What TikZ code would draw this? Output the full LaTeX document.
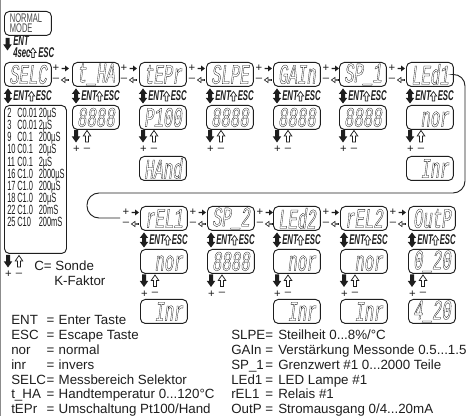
\documentclass[tikz,border=0pt]{standalone}
\usepackage{fontspec}
\setmainfont{Liberation Sans}
\newfontfamily\narrowfont[FakeStretch=0.56]{Liberation Sans}
\newfontfamily\normfont[FakeStretch=0.6]{Liberation Sans}
\newfontfamily\keyfont[FakeStretch=0.55,BoldFont={Liberation Sans Bold},ItalicFont={Liberation Sans Italic}]{Liberation Sans}
\newfontfamily\segfont[FakeStretch=0.56,FakeSlant=0.12]{Liberation Mono}
\definecolor{ink}{HTML}{1E1E1E}
\newcommand{\segtxt}[1]{{\segfont\fontsize{21}{21}\selectfont\special{pdf:code 1 Tr 0.22 w}#1\special{pdf:code 0 Tr}}}
\newcommand{\keytxt}[1]{{\keyfont\bfseries\itshape\fontsize{10.6}{10.6}\selectfont #1}}
\newcommand{\listtxt}[1]{{\narrowfont\fontsize{10}{10}\selectfont #1}}
\tikzset{
  dbox/.style={draw=ink,line width=0.7pt,rounded corners=3.6pt,minimum width=35.2pt,minimum height=18pt,inner sep=0pt,text=ink},
  lg/.style={anchor=base west,inner sep=0pt,text=ink,font=\fontsize{10}{11}\selectfont},
  kt/.style={anchor=base west,inner sep=0pt,text=ink},
  sg/.style={inner sep=0pt,text=ink,font=\fontsize{8.5}{8.5}\selectfont},
  lst/.style={anchor=base west,inner sep=0pt,text=ink},
  conn/.style={draw=ink,line width=0.7pt},
  pics/soliddown/.style={code={\fill[ink] (-2,0)--(-2,6.5)--(-4.2,6.5)--(0,12.5)--(4.2,6.5)--(2,6.5)--(2,0)--cycle;}},
  pics/hollowup/.style={code={\draw[ink,line width=0.55pt,fill=white] (-1.5,0)--(-1.5,-6)--(-3.8,-6)--(0,-11.5)--(3.8,-6)--(1.5,-6)--(1.5,0)--cycle;}},
  pics/hollowsmall/.style={code={\draw[ink,line width=0.5pt,fill=white] (-1.2,0)--(-1.2,-5)--(-3.2,-5)--(0,-9.5)--(3.2,-5)--(1.2,-5)--(1.2,0)--cycle;}},
  pics/updown/.style={code={\fill[ink] (0,-7.5)--(4.2,-2)--(2,-2)--(2,2)--(4.2,2)--(0,7.5)--(-4.2,2)--(-2,2)--(-2,-2)--(-4.2,-2)--cycle;}},
  pics/rightsolid/.style={code={\fill[ink] (-3.5,-0.7)--(0,-0.7)--(0,-3)--(4,0)--(0,3)--(0,0.7)--(-3.5,0.7)--cycle;}},
  pics/lefthollow/.style={code={\draw[ink,line width=0.45pt,fill=white] (3.5,-0.6)--(0,-0.6)--(0,-2.6)--(-3.6,0)--(0,2.6)--(0,0.6)--(3.5,0.6)--cycle;}},
}
\newcommand{\between}[2]{%
  \node[sg] at (#1+6,#2+6.5) {+};
  \node[sg] at (#1+6,#2+18) {–};
  \pic at (#1+15,#2+6.5) {rightsolid};
  \pic at (#1+15,#2+18) {lefthollow};
}
\newcommand{\entesc}[2]{%
  \pic at (#1+4,#2-5) {updown};
  \node[kt] at (#1+9,#2) {\keytxt{ENT}};
  \node[kt] at (#1+31.5,#2) {\keytxt{ESC}};
  \pic at (#1+27.5,#2) {hollowsmall};
}
\newcommand{\plusminus}[2]{%
  \pic at (#1+4,#2) {soliddown};
  \pic at (#1+15,#2+12) {hollowup};
  \node[sg] at (#1+4.5,#2+19.5) {+};
  \node[sg] at (#1+15,#2+19.5) {–};
}
\newcommand{\lgl}[3]{\node[lg] at (11,#1) {\makebox[26.6pt][l]{#2}\makebox[9pt][l]{=}#3};}
\newcommand{\lgr}[3]{\node[lg] at (231,#1) {\makebox[25.5pt][l]{#2}\makebox[9.75pt][l]{=}#3};}
\begin{document}
\begin{tikzpicture}[x=0.75pt,y=-0.75pt]
\useasboundingbox (0,0) rectangle (468,416);
\fill[white] (0,0) rectangle (468,416);
\fill[black!45] (0,0) rectangle (1,416);
% first row
\node[dbox,anchor=north west] (normal) at (4,11) {};
\node[anchor=center,inner sep=0pt,text=ink!80,align=left,font=\normfont\fontsize{9.4}{7.3}\selectfont] (normaltxt) at (26,23) {NORMAL\\MODE};
\pic at (7.5,38) {soliddown};
\node[kt] (enttop) at (13,46) {\keytxt{ENT}};
\node[kt] (sec) at (13,57.5) {\keytxt{4sec}};
\node[kt] (esctop) at (38,57.5) {\keytxt{ESC}};
\pic at (33,57.5) {hollowsmall};
\node[dbox,anchor=north west] (selc) at (4,62) {\segtxt{SELC}};
\node[dbox,anchor=north west] (tha) at (72,62) {\segtxt{t\_HA}};
\node[dbox,anchor=north west] (tepr) at (139,62) {\segtxt{tEPr}};
\node[dbox,anchor=north west] (slpe) at (206,62) {\segtxt{SLPE}};
\node[dbox,anchor=north west] (gain) at (273,62) {\segtxt{GAIn}};
\node[dbox,anchor=north west] (spone) at (339,62) {\segtxt{SP\_1}};
\node[dbox,anchor=north west] (ledone) at (406,62) {\segtxt{LEd1}};
\foreach \bx in {50,118,186,253,320,386} {\between{\bx}{62}}
\foreach \bx in {4,72,139,206,273,339,406} {\entesc{\bx}{101}}
% values
\node[draw=ink,line width=0.7pt,rounded corners=3.6pt,anchor=north west,minimum width=46.5pt,minimum height=111pt,inner sep=0pt] (list) at (4,105) {};
\node[dbox,anchor=north west] (vha) at (72,105) {\segtxt{8888}};
\node[dbox,anchor=north west] (vtepr) at (139,105) {\segtxt{P100}};
\node[dbox,anchor=north west] (vslpe) at (206,105) {\segtxt{8888}};
\node[dbox,anchor=north west] (vgain) at (273,105) {\segtxt{8888}};
\node[dbox,anchor=north west] (vspone) at (339,105) {\segtxt{8888}};
\node[dbox,anchor=north west] (vledone) at (406,105) {\segtxt{\phantom{8}nor}};
\foreach \bx in {72,139,206,273,339,406} {\plusminus{\bx}{130}}
\node[dbox,anchor=north west] (hand) at (139,156) {\segtxt{HAnd}};
\node[dbox,anchor=north west] (inrone) at (406,156) {\segtxt{\phantom{8}Inr}};
% list
\foreach \yy/\a/\b/\c in {118/2/C0.01/20µS,130/3/C0.01/2µS,142/9/C0.1/200µS,154/10/C0.1/20µS,166.5/11/C0.1/2µS,178.5/16/C1.0/2000µS,190.5/17/C1.0/200µS,203/18/C1.0/20µS,215/22/C1.0/20mS,227/25/C10/200mS} {
  \node[lst] at (7,\yy) {\listtxt{\a}};
  \node[lst] at (17,\yy) {\listtxt{\b}};
  \node[lst] at (38.5,\yy) {\listtxt{\c}};
}
\plusminus{4}{255}
\node[lg] (sonde) at (34,271) {C= Sonde};
\node[lg] (kfak) at (54,286) {K-Faktor};
% second row
\node[dbox,anchor=north west] (relone) at (140,206) {\segtxt{rEL1}};
\node[dbox,anchor=north west] (sptwo) at (207,206) {\segtxt{SP\_2}};
\node[dbox,anchor=north west] (ledtwo) at (273,206) {\segtxt{LEd2}};
\node[dbox,anchor=north west] (reltwo) at (340,206) {\segtxt{rEL2}};
\node[dbox,anchor=north west] (outp) at (408,206) {\segtxt{OutP}};
\foreach \bx in {187,254,320,387} {\between{\bx}{206}}
\between{120}{206}
\foreach \bx in {140,207,273,340,408} {\entesc{\bx}{245}}
\node[dbox,anchor=north west] (vrelone) at (140,249) {\segtxt{\phantom{8}nor}};
\node[dbox,anchor=north west] (vsptwo) at (207,249) {\segtxt{8888}};
\node[dbox,anchor=north west] (vledtwo) at (273,249) {\segtxt{\phantom{8}nor}};
\node[dbox,anchor=north west] (vreltwo) at (340,249) {\segtxt{\phantom{8}nor}};
\node[dbox,anchor=north west] (voutp) at (408,249) {\segtxt{0\_20}};
\foreach \bx in {140,207,273,340,408} {\plusminus{\bx}{274.5}}
\node[dbox,anchor=north west] (irelone) at (140,299) {\segtxt{\phantom{8}Inr}};
\node[dbox,anchor=north west] (iledtwo) at (273,299) {\segtxt{\phantom{8}Inr}};
\node[dbox,anchor=north west] (ireltwo) at (340,299) {\segtxt{\phantom{8}Inr}};
\node[dbox,anchor=north west] (ioutp) at (408,299) {\segtxt{4\_20}};
% long connector
\coordinate (rel-in) at (120,218);
\draw[conn,rounded corners=9pt] (ledone.east) -- (465,74) -- (465,193) -- (87,193) -- (87,218) -- (rel-in);
% legend
\lgl{325}{ENT}{Enter Taste}
\lgl{340}{ESC}{Escape Taste}
\lgl{355}{nor}{normal}
\lgl{370}{inr}{invers}
\lgl{385}{SELC}{Messbereich Selektor}
\lgl{399}{t\_HA}{Handtemperatur 0...120°C}
\lgl{414}{tEPr}{Umschaltung Pt100/Hand}
\lgr{340}{SLPE}{Steilheit 0...8\%/°C}
\lgr{355}{GAIn}{Verstärkung Messonde 0.5...1.5}
\lgr{370}{SP\_1}{Grenzwert \#1 0...2000 Teile}
\lgr{385}{LEd1}{LED Lampe \#1}
\lgr{399}{rEL1}{Relais \#1}
\lgr{414}{OutP}{Stromausgang 0/4...20mA}
\end{tikzpicture}
\end{document}
